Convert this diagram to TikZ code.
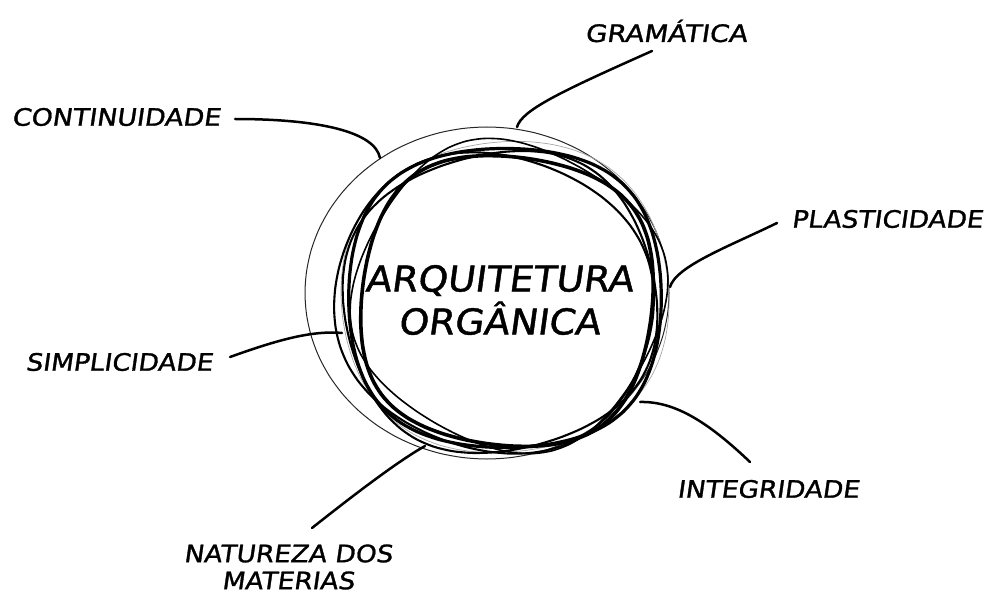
\documentclass[tikz,border=0pt]{standalone}
\usepackage{fontspec}
\setmainfont{DejaVu Sans}
\newfontfamily\labelfont[FakeBold=1.2,FakeSlant=0.13]{DejaVu Sans}
\newcommand\sketchring[7]{%
  \begin{scope}[shift={(#1,#2)},rotate=#6]
    \draw[#7] plot[smooth cycle,samples=48,domain=0:352.5,variable=\t]
      ({#3*(cos(\t)-#5*cos(3*\t))},{#4*(sin(\t)+#5*sin(3*\t))});
  \end{scope}}
\newcommand\wide[2]{\scalebox{#1}[1]{#2}}
\begin{document}
\begin{tikzpicture}[x=1pt,y=-1pt,
  lbl/.style={font=\labelfont\fontsize{24}{28}\selectfont,inner sep=0pt,align=center},
  title/.style={font=\labelfont\fontsize{35.5}{40}\selectfont,inner sep=0pt,align=center},
  link/.style={line width=2.5pt,line cap=round},
  thin ring/.style={line width=1pt,black!85},
  faint ring/.style={line width=0.7pt,black!35},
  thick ring/.style={line width=3.2pt},
  mid ring/.style={line width=2.1pt}]
\useasboundingbox (0,0) rectangle (993,596);
% rings
\sketchring{487}{293}{182}{166}{0}{0}{thin ring}
\sketchring{505}{297}{167}{158}{0.02}{8}{faint ring}
\sketchring{505}{298}{162}{155}{0.035}{0}{thick ring}
\sketchring{507}{301}{151}{150}{0.04}{-8}{line width=3.6pt}
\sketchring{500}{302}{160}{152}{0.03}{15}{mid ring}
\sketchring{494}{303}{162}{149}{0.02}{-20}{mid ring}
\sketchring{509}{296}{156}{153}{0.04}{-30}{line width=1.6pt}
% center text
\node[title] (main) at (499,300) {\wide{1.06}{ARQUITETURA}\\[3pt]\wide{1.06}{ORGÂNICA}};
% labels
\node[lbl] (gram) at (666,31) {\wide{1.15}{GRAMÁTICA}};
\node[lbl] (cont) at (116,117) {\wide{1.12}{CONTINUIDADE}};
\node[lbl] (plas) at (887,219) {\wide{1.1}{PLASTICIDADE}};
\node[lbl] (simp) at (119,362) {\wide{1.1}{SIMPLICIDADE}};
\node[lbl,font=\labelfont\fontsize{24}{27}\selectfont] (natu) at (288,567) {\wide{1.1}{NATUREZA DOS}\\\wide{1.1}{MATERIAS}};
\node[lbl] (inte) at (768,489) {\wide{1.1}{INTEGRIDADE}};
% connector ends
\coordinate (gG) at (652,51);   \coordinate (cG) at (517,127);
\coordinate (gC) at (235,119);  \coordinate (cC) at (380,158);
\coordinate (gP) at (777,223);  \coordinate (cP) at (670,287);
\coordinate (gS) at (230,357);  \coordinate (cS) at (342,333);
\coordinate (gN) at (312,528);  \coordinate (cN) at (425,446);
\coordinate (gI) at (750,462);  \coordinate (cI) at (640,402);
% connectors
\draw[link] (cG) .. controls (522,110) and (560,92) .. (gG);
\draw[link] (gC) .. controls (320,119) and (375,132) .. (cC);
\draw[link] (gP) .. controls (730,246) and (676,266) .. (cP);
\draw[link] (gS) .. controls (272,342) and (310,330) .. (cS);
\draw[link] (gN) .. controls (360,490) and (400,460) .. (cN);
\draw[link] (cI) .. controls (676,401) and (710,424) .. (gI);
\end{tikzpicture}
\end{document}
